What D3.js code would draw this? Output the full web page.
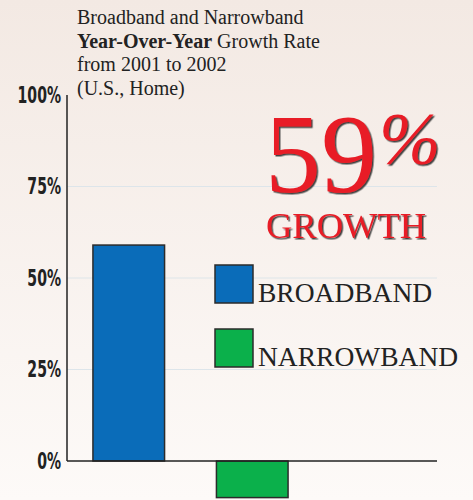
<!DOCTYPE html>
<html>
<head>
<meta charset="utf-8">
<script src="https://cdn.jsdelivr.net/npm/d3@7"></script>
<style>
  html, body { margin: 0; padding: 0; }
  body { width: 473px; height: 500px; overflow: hidden; }
</style>
</head>
<body>
<div class="growth"></div>
<script>
// Broadband vs narrowband growth, 2001 -> 2002
var categories = ["BROADBAND", "NARROWBAND"];
var growth = [59, -10];
var yTicks = [0, 25, 50, 75, 100];
var titleLines = [
    [{ t: "Broadband and Narrowband", b: false }],
    [{ t: "Year-Over-Year", b: true }, { t: " Growth Rate", b: false }],
    [{ t: "from 2001 to 2002", b: false }],
    [{ t: "(U.S., Home)", b: false }]
];
var headline = "59";
var headlineSub = "GROWTH";

var colors = ["#0a6cb9", "#0bb04b"];
var red = "#e81f28";

var width = 473, height = 500;
var margin = { top: 95, left: 67, bottom: 39 };

var svg = d3.select('.growth')
    .append('svg')
    .attr("width", width)
    .attr("height", height);

var defs = svg.append("defs");
var grad = defs.append("linearGradient")
    .attr("id", "bg")
    .attr("x1", 0).attr("y1", 0).attr("x2", 0).attr("y2", 1);
grad.append("stop").attr("offset", "0%").attr("stop-color", "#f3e9e3");
grad.append("stop").attr("offset", "100%").attr("stop-color", "#fdfaf8");

var shadow = defs.append("filter")
    .attr("id", "shadow")
    .attr("x", "-10%").attr("y", "-10%")
    .attr("width", "130%").attr("height", "130%");
shadow.append("feDropShadow")
    .attr("dx", 1.5).attr("dy", 1.5)
    .attr("stdDeviation", 0.4)
    .attr("flood-color", "#333")
    .attr("flood-opacity", 0.9);

svg.append("rect")
    .attr("width", width)
    .attr("height", height)
    .attr("fill", "url(#bg)");

var yRange = d3.scaleLinear()
    .domain([0, 100])
    .range([height - margin.bottom, margin.top]);

var xRange = d3.scaleBand()
    .domain(categories)
    .range([margin.left, 314])
    .paddingInner(0.42)
    .paddingOuter(0.21);

var axisRight = 437;

// gridlines
svg.selectAll(".grid")
    .data(yTicks.filter(function(d) { return d > 0 && d < 100; }))
    .enter()
    .append("line")
    .attr("class", "grid")
    .attr("x1", margin.left)
    .attr("x2", axisRight)
    .attr("y1", function(d) { return yRange(d); })
    .attr("y2", function(d) { return yRange(d); })
    .attr("stroke", "#dde5ea")
    .attr("stroke-width", 1.2);

// y labels
var yAxis = d3.axisLeft()
    .scale(yRange)
    .tickValues(yTicks)
    .tickSize(0)
    .tickPadding(6)
    .tickFormat(function(d) { return d + "%"; });

var gy = svg.append("g")
    .attr("class", "yAxis")
    .attr("transform", "translate(" + margin.left + ",0)")
    .call(yAxis);
gy.select(".domain").remove();
gy.selectAll("text")
    .attr("x", -6 / 0.68)
    .attr("transform", "scale(0.68,1)")
    .attr("fill", "#222")
    .attr("font-family", "'DejaVu Sans Condensed', 'DejaVu Sans', sans-serif")
    .attr("font-weight", "bold")
    .attr("font-size", 23);

// bars
svg.selectAll("rect.barra")
    .data(growth)
    .enter()
    .append("rect")
    .attr("class", "barra")
    .attr("x", function(d, i) { return xRange(categories[i]); })
    .attr("width", xRange.bandwidth())
    .attr("y", function(d) { return yRange(Math.max(0, d)); })
    .attr("height", function(d) { return Math.abs(yRange(d) - yRange(0)); })
    .attr("fill", function(d, i) { return colors[i]; })
    .attr("stroke", "#2b2b2b")
    .attr("stroke-width", 1.5);

// axis lines
svg.append("line")
    .attr("x1", margin.left).attr("x2", margin.left)
    .attr("y1", yRange(100)).attr("y2", yRange(0))
    .attr("stroke", "#222").attr("stroke-width", 1.5);
svg.append("line")
    .attr("x1", margin.left).attr("x2", axisRight)
    .attr("y1", yRange(0)).attr("y2", yRange(0))
    .attr("stroke", "#222").attr("stroke-width", 1.5);

// title
var title = svg.append("text")
    .attr("font-family", "'Liberation Serif', 'Times New Roman', serif")
    .attr("font-size", 20)
    .attr("fill", "#222");
titleLines.forEach(function(line, i) {
    line.forEach(function(part, j) {
        var ts = title.append("tspan")
            .text(part.t)
            .attr("font-weight", part.b ? "bold" : "normal")
            .style("white-space", "pre");
        if (j === 0) ts.attr("x", 77).attr("y", 24 + i * 23.5);
    });
});

// legend
var legend = svg.selectAll(".legend")
    .data(categories)
    .enter()
    .append("g")
    .attr("class", "legend")
    .attr("transform", function(d, i) { return "translate(215," + (265 + i * 64) + ")"; });
legend.append("rect")
    .attr("width", 38)
    .attr("height", 38)
    .attr("fill", function(d, i) { return colors[i]; })
    .attr("stroke", "#2b2b2b")
    .attr("stroke-width", 1.5);
legend.append("text")
    .attr("x", 43)
    .attr("y", 37)
    .attr("font-family", "'Liberation Serif', 'Times New Roman', serif")
    .attr("font-size", 27.5)
    .attr("fill", "#222")
    .text(function(d) { return d; });

// big red callout with drop shadow
var callout = svg.append("g")
    .attr("fill", red)
    .attr("filter", "url(#shadow)")
    .attr("font-family", "'Liberation Serif', 'Times New Roman', serif");
var big = callout.append("text")
    .attr("x", 265)
    .attr("y", 192)
    .attr("font-size", 112);
big.append("tspan").text(headline);
big.append("tspan")
    .attr("dy", -28)
    .attr("dx", 2)
    .attr("font-size", 74)
    .attr("font-style", "italic")
    .text("%");
callout.append("text")
    .attr("x", 266)
    .attr("y", 238)
    .attr("font-size", 36.5)
    .text(headlineSub);
</script>
</body>
</html>
